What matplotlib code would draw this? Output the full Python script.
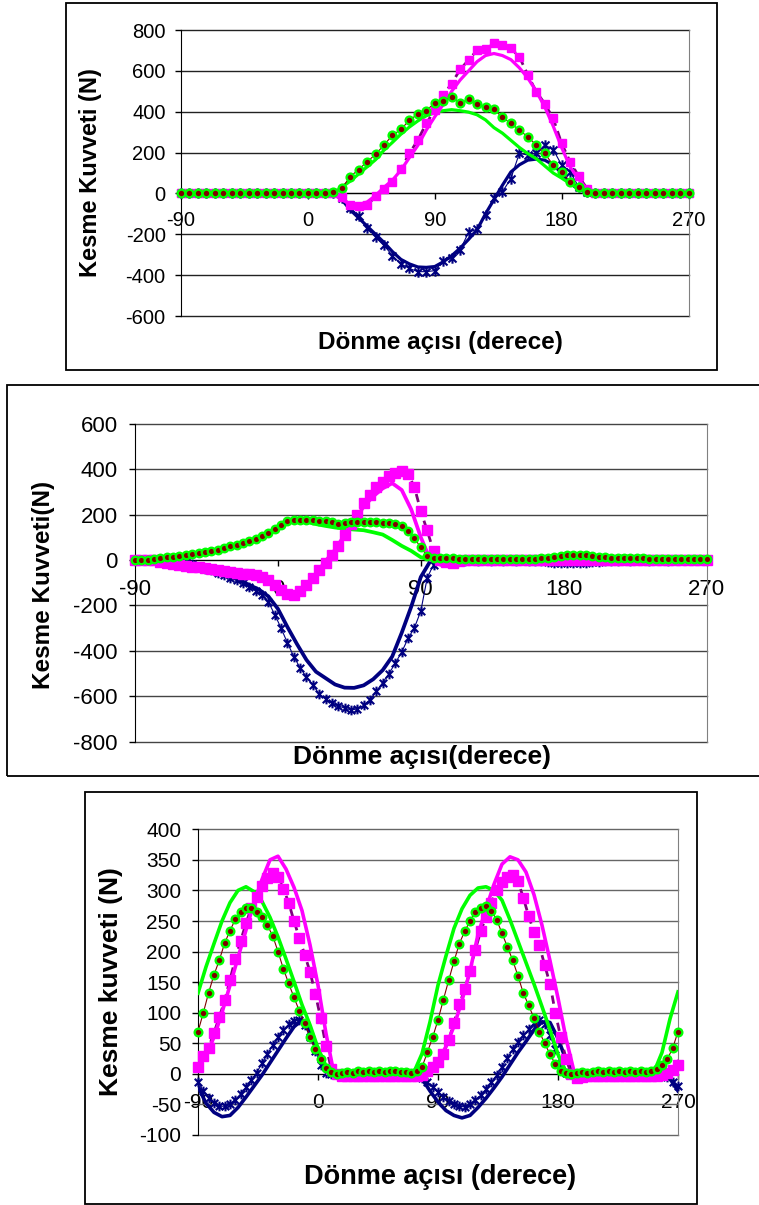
import matplotlib
matplotlib.use('Agg')
import matplotlib.pyplot as plt
from matplotlib.path import Path
from matplotlib.patches import Rectangle

plt.rcParams['font.family'] = ['Liberation Sans', 'DejaVu Sans']
plt.rcParams['axes.unicode_minus'] = False

W, H = 759, 1205

x_ticks = [-90, 0, 90, 180, 270]

# ---- panel 1 (6 degree steps, -90 .. 270) ----
p1_deg = list(range(-90, 271, 6))
p1_yticks = [-600, -400, -200, 0, 200, 400, 600, 800]

p1_navy_pts = [0, 0, 0, 0, 0, 0, 0, 0, 0, 0,
               0, 0, 0, 0, 0, 0, 0, 0, 0, -20,
               -70, -110, -170, -212, -253, -305, -345, -367, -383, -383,
               -378, -330, -318, -277, -190, -175, -106, -24, 8, 73,
               196, 188, 196, 237, 215, 139, 106, 33, 8, 0,
               0, 0, 0, 0, 0, 0, 0, 0, 0, 0,
               0]
p1_navy_ln = [0, 0, 0, 0, 0, 0, 0, 0, 0, 0,
              0, 0, 0, 0, 0, 0, 0, 0, 0, -30,
              -80, -120, -160, -200, -240, -285, -323, -345, -360, -362,
              -358, -335, -305, -268, -225, -178, -100, -30, 40, 105,
              140, 163, 168, 163, 140, 100, 49, 20, 3, 0,
              0, 0, 0, 0, 0, 0, 0, 0, 0, 0,
              0]
p1_green_pts = [0, 0, 0, 0, 0, 0, 0, 0, 0, 0,
                0, 0, 0, 0, 0, 0, 0, 0, 5, 25,
                82, 117, 155, 191, 237, 285, 313, 359, 388, 405,
                444, 452, 473, 444, 460, 437, 424, 411, 372, 343,
                310, 277, 237, 196, 139, 106, 54, 33, 8, 0,
                0, 0, 0, 0, 0, 0, 0, 0, 0, 0,
                0]
p1_green_ln = [0, 0, 0, 0, 0, 0, 0, 0, 0, 0,
               0, 0, 0, 0, 0, 0, 0, 0, 0, 30,
               60, 95, 130, 165, 212, 250, 290, 325, 355, 380,
               395, 405, 410, 405, 398, 385, 360, 322, 295, 260,
               225, 195, 170, 135, 100, 75, 48, 25, 10, 0,
               0, 0, 0, 0, 0, 0, 0, 0, 0, 0,
               0]
p1_pink_pts = [0, 0, 0, 0, 0, 0, 0, 0, 0, 0,
               0, 0, 0, 0, 0, 0, 0, 0, 0, -18,
               -57, -62, -58, -15, 24, 58, 120, 196, 261, 343,
               408, 481, 538, 607, 653, 701, 705, 734, 726, 710,
               669, 580, 498, 440, 367, 245, 155, 85, 24, 0,
               0, 0, 0, 0, 0, 0, 0, 0, 0, 0,
               0]
p1_pink_ln = [0, 0, 0, 0, 0, 0, 0, 0, 0, 0,
              0, 0, 0, 0, 0, 0, 0, 0, 0, -30,
              -55, -55, -42, -10, 30, 65, 114, 175, 235, 310,
              375, 435, 500, 555, 600, 645, 675, 685, 675, 655,
              615, 565, 500, 424, 330, 225, 130, 70, 20, 0,
              0, 0, 0, 0, 0, 0, 0, 0, 0, 0,
              0]

# ---- panel 2 (markers every 4 deg, model every 6 deg) ----
p2_mdeg = list(range(-90, 271, 4))
p2_ldeg = list(range(-90, 271, 6))
p2_yticks = [-800, -600, -400, -200, 0, 200, 400, 600]

p2_navy_pts = [0, 0, 0, 0, 0, 0, 0, -5, -10, -18,
               -30, -38, -46, -56, -66, -78, -90, -102, -118, -135,
               -152, -185, -240, -300, -365, -425, -475, -515, -550, -590,
               -612, -630, -642, -652, -660, -656, -640, -615, -578, -540,
               -500, -453, -405, -345, -298, -225, -80, -20, -5, -3,
               -5, 0, -5, 0, -5, 0, -5, 0, -3, 0,
               -3, 0, -3, -5, -5, -8, -12, -15, -15, -15,
               -15, -12, -10, -8, -5, -3, -3, 0, -3, 0,
               0, -3, 0, 0, -3, 0, 0, 0, 0, 0,
               0]
p2_navy_ln = [0, 0, 0, 0, 0, -10, -20, -32, -45, -58,
              -72, -90, -110, -130, -160, -215, -295, -370, -440, -492,
              -520, -548, -562, -563, -552, -525, -485, -425, -320, -205,
              -75, -5, 0, 0, 0, 0, 0, 0, 0, 0,
              0, 0, 0, -3, -5, -8, -10, -10, -8, -5,
              0, 0, 0, 0, 0, 0, 0, 0, 0, 0,
              0]
p2_green_pts = [0, 1, 2, 4, 7, 11, 15, 19, 23, 27,
                32, 36, 41, 46, 52, 60, 68, 76, 84, 93,
                105, 120, 137, 155, 170, 176, 176, 176, 175, 172,
                170, 168, 160, 165, 167, 167, 168, 168, 168, 165,
                162, 158, 148, 126, 95, 55, 18, 8, 10, 10,
                8, 6, 5, 5, 4, 4, 4, 4, 4, 4,
                5, 5, 5, 6, 8, 10, 15, 18, 20, 20,
                20, 20, 18, 15, 12, 10, 10, 10, 10, 8,
                7, 6, 5, 5, 5, 5, 5, 4, 4, 4,
                4]
p2_green_ln = [0, 1, 3, 6, 12, 17, 23, 30, 37, 45,
               55, 65, 80, 100, 122, 145, 165, 173, 168, 158,
               150, 143, 138, 134, 131, 122, 112, 88, 62, 40,
               12, 2, 5, 5, 5, 4, 4, 4, 4, 4,
               5, 5, 6, 8, 12, 16, 18, 18, 16, 12,
               10, 10, 9, 8, 7, 6, 5, 5, 4, 4,
               4]
p2_pink_pts = [0, 0, 0, -2, -8, -14, -18, -22, -26, -29,
               -32, -36, -40, -44, -47, -51, -56, -60, -63, -67,
               -75, -90, -110, -132, -148, -152, -135, -110, -80, -45,
               -12, 20, 60, 110, 160, 200, 250, 285, 320, 345,
               368, 385, 392, 378, 320, 215, 130, 40, 0, -10,
               -12, -5, 0, 0, 0, 0, 0, 0, 0, 0,
               0, 0, 0, 0, 0, 0, 0, 0, 0, 0,
               0, 0, 0, 0, 0, 0, 0, 0, 0, 0,
               0, 0, 0, 0, 0, 0, 0, 0, 0, 0,
               0]
p2_pink_ln = [0, 0, 0, -8, -15, -22, -28, -34, -40, -46,
              -52, -58, -63, -70, -88, -118, -145, -145, -115, -60,
              -5, 45, 110, 170, 235, 280, 315, 338, 308, 222,
              100, 0, -5, -5, 0, 0, 0, 0, 0, 0,
              0, 0, 0, 0, 0, 0, 0, 0, 0, 0,
              0, 0, 0, 0, 0, 0, 0, 0, 0, 0,
              0]

# ---- panel 3 (markers every 4 deg, model every 6 deg) ----
p3_mdeg = list(range(-90, 271, 4))
p3_ldeg = list(range(-90, 271, 6))
p3_yticks = [-100, -50, 0, 50, 100, 150, 200, 250, 300, 350, 400]

p3_navy_pts = [-13, -28, -39, -48, -53, -53, -50, -42, -33, -22,
               -10, 2, 17, 32, 47, 60, 72, 81, 86, 88,
               80, 60, 38, 15, 2, 0, 0, 0, 0, 0,
               0, 0, 0, 0, 0, 0, 0, 0, 0, 0,
               0, -2, -6, -14, -22, -30, -38, -45, -50, -53,
               -54, -50, -43, -35, -25, -14, -2, 12, 26, 40,
               52, 63, 73, 83, 88, 82, 63, 40, 16, 2,
               0, 0, 0, 0, 0, 0, 0, 0, 0, 0,
               0, 0, 0, 0, 0, 0, 0, -1, -5, -13,
               -20]
p3_navy_ln = [-21, -48, -63, -70, -68, -55, -38, -20, -2, 18,
              38, 58, 77, 88, 70, 37, 7, 0, 0, 0,
              0, 0, 0, 0, 0, 0, 0, 0, -8, -28,
              -46, -60, -68, -72, -68, -55, -40, -23, -5, 15,
              35, 53, 72, 85, 84, 58, 23, 0, 0, 0,
              0, 0, 0, 0, 0, 0, 0, 0, 0, -8,
              -28]
p3_green_pts = [69, 100, 133, 162, 186, 214, 234, 253, 265, 271,
                272, 265, 257, 243, 226, 200, 172, 148, 125, 103,
                83, 61, 40, 24, 10, 3, 0, 2, 3, 2,
                4, 3, 4, 3, 4, 3, 4, 4, 3, 3,
                2, 4, 11, 35, 60, 88, 121, 153, 184, 213,
                233, 250, 265, 272, 274, 267, 252, 230, 208, 186,
                160, 132, 112, 91, 69, 50, 32, 16, 5, 1,
                0, 2, 3, 2, 3, 4, 3, 4, 3, 4,
                3, 4, 3, 4, 3, 4, 8, 14, 24, 42,
                69]
p3_green_ln = [132, 175, 213, 250, 280, 300, 306, 298, 282, 256,
               224, 188, 151, 113, 80, 42, 13, 0, 1, 1,
               1, 1, 1, 1, 1, 1, 1, 3, 33, 85,
               145, 193, 238, 270, 292, 304, 306, 300, 284, 252,
               217, 182, 147, 110, 72, 32, 3, 0, 1, 1,
               1, 1, 1, 1, 1, 1, 1, 3, 35, 90,
               134]
p3_pink_pts = [12, 29, 43, 67, 93, 120, 154, 188, 218, 246,
               272, 290, 307, 321, 328, 322, 303, 280, 250, 222,
               195, 167, 131, 91, 45, 8, 0, -3, -3, -3,
               -3, -3, -3, -3, -3, -3, -3, -3, -3, -3,
               -3, -4, -2, 5, 11, 20, 33, 55, 84, 114,
               138, 168, 203, 233, 257, 280, 300, 313, 322, 325,
               315, 288, 258, 232, 210, 178, 147, 100, 60, 25,
               0, -7, -5, -3, -3, -3, -3, -3, -3, -3,
               -3, -3, -3, -3, -3, -3, -3, -2, 2, 7,
               15]
p3_pink_ln = [10, 30, 60, 100, 145, 190, 235, 280, 318, 350,
              356, 335, 305, 267, 211, 145, 66, 0, -3, -3,
              -3, -3, -3, -3, -3, -3, -3, -3, 0, 5,
              20, 45, 78, 120, 168, 228, 270, 310, 343, 355,
              350, 330, 293, 243, 185, 124, 58, 4, -3, -3,
              -3, -3, -3, -3, -3, -3, -3, -3, -3, 3,
              20]

NAVY = '#000080'
GREEN = '#00FF00'
PINK = '#FF00FF'
MAROON = '#800000'
PURPLE = '#800080'

# excel-like "star" marker: an x with a vertical bar
star = Path([(-1, -1), (1, 1), (-1, 1), (1, -1), (0, -1.3), (0, 1.3)],
            [Path.MOVETO, Path.LINETO, Path.MOVETO, Path.LINETO, Path.MOVETO, Path.LINETO])

fig = plt.figure(figsize=(W / 100, H / 100), dpi=100, facecolor='white')


def px_axes(left, top, right, bottom):
    return fig.add_axes([left / W, 1 - bottom / H, (right - left) / W, (bottom - top) / H])


def px_box(left, top, right, bottom):
    fig.add_artist(Rectangle((left / W, 1 - bottom / H), (right - left) / W, (bottom - top) / H,
                             transform=fig.transFigure, fill=False, ec='black', lw=1.3))


def draw(ax, xm, xl, navy_p, navy_l, green_p, green_l, pink_p, pink_l, ms_sq, ms_ci, ms_st, lw):
    ax.plot(xm, navy_p, color=NAVY, lw=0.8, marker=star, ms=ms_st, mew=1.5, mec=NAVY,
            zorder=3, clip_on=False)
    ax.plot(xl, navy_l, color=NAVY, lw=lw, zorder=4)
    ax.plot(xl, green_l, color=GREEN, lw=lw, zorder=4.5)
    ax.plot(xm, pink_p, color=PURPLE, lw=2, ls=(0, (3, 2)), marker='s', ms=ms_sq, mfc=PINK,
            mec=PINK, zorder=5, clip_on=False)
    ax.plot(xl, pink_l, color=PINK, lw=lw, zorder=5.5)
    ax.plot(xm, green_p, color=MAROON, lw=0.8, marker='o', ms=ms_ci, mfc=MAROON, mec=GREEN,
            mew=1.7, zorder=6, clip_on=False)


def style(ax, ylim, yticks, fs, xpad, ypad, gc):
    ax.set_xlim(-90, 270)
    ax.set_ylim(*ylim)
    ax.set_xticks(x_ticks)
    ax.set_yticks(yticks)
    ax.yaxis.grid(True, color=gc, lw=1)
    ax.xaxis.grid(False)
    ax.set_axisbelow(True)
    for gl in ax.get_ygridlines():
        gl.set_clip_on(False)
    ax.spines['bottom'].set_position(('data', 0))
    ax.spines['top'].set_visible(False)
    ax.spines['right'].set_color('#808080')
    ax.tick_params(axis='x', direction='out', length=4, width=1, pad=xpad, labelsize=fs)
    ax.tick_params(axis='y', direction='out', length=4, width=1, pad=ypad, labelsize=fs)


# panel 1
px_box(66, 3, 717, 370)
ax1 = px_axes(181, 30, 688.5, 316)
draw(ax1, p1_deg, p1_deg, p1_navy_pts, p1_navy_ln, p1_green_pts, p1_green_ln,
     p1_pink_pts, p1_pink_ln, 6.4, 5.6, 7.5, 2.3)
style(ax1, (-600, 800), p1_yticks, 14.5, 9, 7, '#222222')
fig.text(90 / W, 1 - 173 / H, 'Kesme Kuvveti (N)', rotation=90, ha='center', va='center',
         fontsize=17, fontweight='bold')
fig.text(440 / W, 1 - 343 / H, 'Dönme açısı (derece)', ha='center', va='center',
         fontsize=17.5, fontweight='bold')

# panel 2
px_box(7, 385, 762, 776)
ax2 = px_axes(135, 423.7, 706.6, 741.7)
draw(ax2, p2_mdeg, p2_ldeg, p2_navy_pts, p2_navy_ln, p2_green_pts, p2_green_ln,
     p2_pink_pts, p2_pink_ln, 6.5, 5.4, 7.0, 2.7)
style(ax2, (-800, 600), p2_yticks, 16, 10, 8.5, '#444444')
fig.text(44 / W, 1 - 585 / H, 'Kesme Kuvveti(N)', rotation=90, ha='center', va='center',
         fontsize=17.5, fontweight='bold')
fig.text(422 / W, 1 - 757 / H, 'Dönme açısı(derece)', ha='center', va='center',
         fontsize=19, fontweight='bold')

# panel 3
px_box(85, 792, 697, 1204)
ax3 = px_axes(198, 829.3, 678, 1135)
draw(ax3, p3_mdeg, p3_ldeg, p3_navy_pts, p3_navy_ln, p3_green_pts, p3_green_ln,
     p3_pink_pts, p3_pink_ln, 6.6, 5.5, 7.0, 2.6)
style(ax3, (-100, 400), p3_yticks, 15, 10, 8, '#666666')
fig.text(111 / W, 1 - 982 / H, 'Kesme kuvveti (N)', rotation=90, ha='center', va='center',
         fontsize=19, fontweight='bold')
fig.text(440 / W, 1 - 1177 / H, 'Dönme açısı (derece)', ha='center', va='center',
         fontsize=19.5, fontweight='bold')

fig.savefig('out.png', dpi=100, facecolor='white')
